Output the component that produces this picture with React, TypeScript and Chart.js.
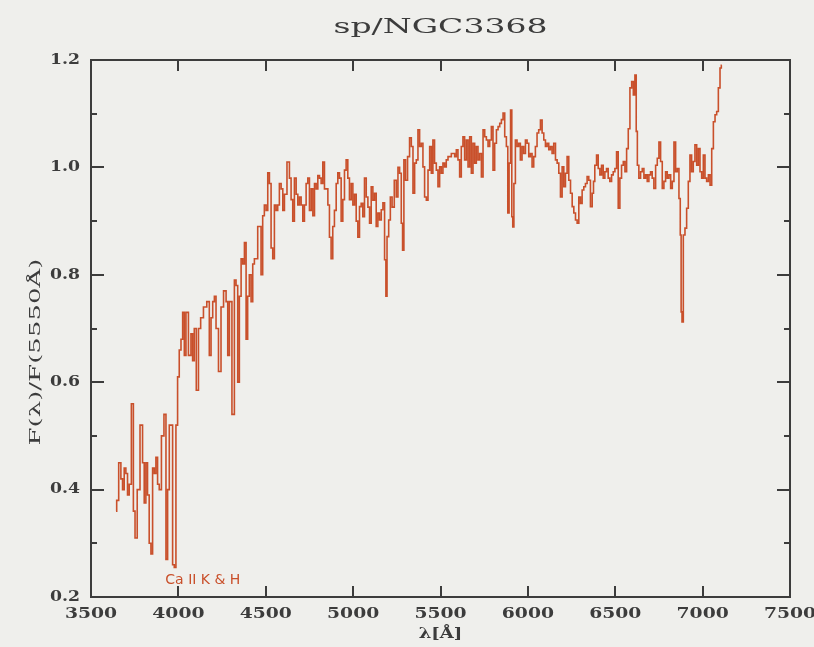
import React, { useEffect, useRef, useState } from "react";
import { Chart, registerables } from "chart.js";

Chart.register(...registerables);

const TITLE = "sp/NGC3368";
const X_TITLE = "λ[Å]";
const Y_TITLE = "F(λ)/F(5550Å)";
const ANNOTATION = "Ca II K & H";
const ANNOTATION_AT = [4140, 0.225];

const X_TICKS = [3500, 4000, 4500, 5000, 5500, 6000, 6500, 7000, 7500];
const Y_TICKS = [0.2, 0.4, 0.6, 0.8, 1.0, 1.2];
const Y_MINOR = [0.3, 0.5, 0.7, 0.9, 1.1];

const WAVELENGTH = [
  3643, 3651, 3666, 3676, 3685, 3695, 3704, 3714, 3723, 3739, 3746, 3758, 3771, 3790, 3800, 3809,
  3819, 3828, 3838, 3848, 3857, 3867, 3876, 3886, 3895, 3911, 3924, 3934, 3943, 3953, 3962, 3972,
  3981, 3991, 4000, 4010, 4020, 4029, 4039, 4048, 4067, 4077, 4086, 4096, 4109, 4121, 4134, 4153,
  4172, 4182, 4192, 4201, 4211, 4220, 4239, 4249, 4268, 4278, 4287, 4297, 4316, 4325, 4335, 4344,
  4354, 4364, 4373, 4383, 4392, 4401, 4411, 4421, 4430, 4440, 4449, 4459, 4468, 4478, 4487, 4497,
  4507, 4516, 4526, 4535, 4545, 4554, 4564, 4573, 4583, 4593, 4602, 4612, 4631, 4640, 4650, 4659,
  4669, 4679, 4688, 4698, 4707, 4717, 4726, 4736, 4745, 4755, 4765, 4774, 4784, 4793, 4803, 4812,
  4822, 4831, 4841, 4851, 4860, 4869, 4879, 4888, 4898, 4908, 4917, 4927, 4936, 4946, 4955, 4965,
  4974, 4984, 4994, 5003, 5013, 5022, 5032, 5041, 5051, 5060, 5070, 5080, 5089, 5099, 5108, 5118,
  5127, 5137, 5146, 5156, 5166, 5175, 5185, 5190, 5198, 5209, 5217, 5229, 5242, 5252, 5261, 5271,
  5280, 5286, 5295, 5305, 5318, 5328, 5338, 5347, 5357, 5366, 5376, 5385, 5395, 5404, 5414, 5424,
  5433, 5443, 5452, 5461, 5471, 5481, 5490, 5500, 5509, 5519, 5528, 5538, 5548, 5557, 5567, 5576,
  5586, 5595, 5605, 5614, 5624, 5633, 5643, 5653, 5662, 5672, 5681, 5691, 5700, 5710, 5719, 5729,
  5739, 5748, 5758, 5767, 5777, 5786, 5796, 5805, 5815, 5825, 5834, 5844, 5853, 5863, 5872, 5882,
  5888, 5897, 5905, 5911, 5916, 5924, 5933, 5943, 5952, 5962, 5971, 5981, 5991, 6000, 6010, 6019,
  6029, 6038, 6048, 6057, 6067, 6077, 6086, 6096, 6105, 6115, 6124, 6134, 6143, 6153, 6163, 6172,
  6182, 6191, 6201, 6210, 6220, 6229, 6239, 6249, 6258, 6268, 6277, 6287, 6296, 6306, 6315, 6325,
  6334, 6344, 6353, 6363, 6373, 6378, 6388, 6398, 6407, 6417, 6426, 6436, 6445, 6455, 6464, 6474,
  6484, 6493, 6503, 6512, 6522, 6531, 6541, 6551, 6560, 6570, 6579, 6589, 6599, 6608, 6617, 6623,
  6630, 6640, 6650, 6659, 6669, 6678, 6688, 6697, 6707, 6716, 6726, 6736, 6745, 6755, 6764, 6774,
  6783, 6793, 6802, 6812, 6822, 6831, 6841, 6850, 6860, 6869, 6875, 6879, 6885, 6894, 6904, 6913,
  6923, 6932, 6942, 6951, 6961, 6971, 6980, 6990, 6999, 7009, 7018, 7028, 7038, 7047, 7057, 7066,
  7076, 7085, 7095, 7104, 7110,
];

const FLUX = [
  0.36, 0.38, 0.45, 0.42, 0.40, 0.44, 0.43, 0.39, 0.41, 0.56, 0.36, 0.31, 0.40, 0.52, 0.45, 0.375,
  0.45, 0.39, 0.30, 0.28, 0.44, 0.43, 0.46, 0.41, 0.40, 0.50, 0.54, 0.27, 0.40, 0.52, 0.52, 0.26,
  0.255, 0.52, 0.61, 0.66, 0.68, 0.73, 0.65, 0.73, 0.65, 0.69, 0.64, 0.70, 0.585, 0.70, 0.72, 0.74,
  0.75, 0.65, 0.72, 0.75, 0.76, 0.70, 0.62, 0.74, 0.77, 0.75, 0.65, 0.75, 0.54, 0.79, 0.78, 0.60,
  0.76, 0.83, 0.82, 0.86, 0.68, 0.76, 0.80, 0.75, 0.82, 0.83, 0.83, 0.89, 0.89, 0.80, 0.91, 0.93,
  0.92, 0.99, 0.97, 0.85, 0.83, 0.93, 0.92, 0.93, 0.97, 0.96, 0.92, 0.95, 1.01, 0.98, 0.94, 0.90,
  0.98, 0.95, 0.93, 0.945, 0.93, 0.90, 0.93, 0.97, 0.98, 0.92, 0.96, 0.91, 0.97, 0.96, 0.985, 0.98,
  0.97, 1.01, 0.96, 0.96, 0.93, 0.87, 0.83, 0.89, 0.92, 0.97, 0.99, 0.98, 0.90, 0.94, 0.995, 1.014,
  0.98, 0.94, 0.97, 0.93, 0.95, 0.90, 0.87, 0.927, 0.933, 0.908, 0.98, 0.945, 0.926, 0.896, 0.964, 0.939,
  0.952, 0.89, 0.915, 0.902, 0.921, 0.934, 0.828, 0.76, 0.871, 0.902, 0.945, 0.926, 0.976, 0.945, 1.0, 0.989,
  0.896, 0.846, 1.014, 0.976, 1.02, 1.055, 1.039, 0.952, 1.008, 1.014, 1.07, 1.039, 1.045, 1.001, 0.945, 0.939,
  0.995, 1.039, 0.989, 1.051, 1.008, 0.995, 0.964, 1.001, 0.989, 1.008, 1.001, 1.014, 1.02, 1.02, 1.026, 1.026,
  1.02, 1.033, 1.014, 0.982, 1.039, 1.057, 1.014, 1.051, 1.001, 1.057, 0.989, 1.045, 1.008, 1.039, 1.014, 1.026,
  0.982, 1.07, 1.057, 1.051, 1.039, 1.051, 1.076, 0.995, 1.045, 1.07, 1.076, 1.082, 1.089, 1.101, 1.057, 1.039,
  0.915, 1.008, 1.107, 0.908, 0.889, 0.97, 1.051, 1.039, 1.045, 1.014, 1.039, 1.026, 1.051, 1.045, 1.02, 1.026,
  1.001, 1.02, 1.039, 1.064, 1.07, 1.088, 1.064, 1.051, 1.039, 1.045, 1.033, 1.039, 1.026, 1.045, 1.014, 1.008,
  0.989, 0.945, 1.001, 0.964, 0.989, 1.02, 0.976, 0.952, 0.927, 0.915, 0.902, 0.896, 0.945, 0.933, 0.958, 0.964,
  0.97, 0.983, 0.976, 0.927, 0.952, 0.974, 1.004, 1.023, 0.998, 0.986, 1.004, 0.98, 0.992, 0.998, 0.98, 0.974,
  0.986, 0.992, 0.998, 1.029, 0.924, 0.98, 1.004, 1.011, 0.992, 1.035, 1.072, 1.148, 1.16, 1.135, 1.172, 1.067,
  1.004, 0.98, 0.992, 0.998, 0.98, 0.986, 0.974, 0.986, 0.992, 0.98, 0.961, 1.004, 1.017, 1.047, 1.011, 0.961,
  0.974, 0.992, 0.98, 0.986, 0.961, 0.974, 1.047, 0.992, 0.998, 0.942, 0.874, 0.731, 0.712, 0.874, 0.887, 0.924,
  0.974, 1.023, 0.992, 1.011, 1.042, 1.004, 1.035, 0.992, 0.98, 1.023, 0.98, 0.974, 0.986, 0.967, 1.035, 1.085,
  1.098, 1.104, 1.148, 1.185, 1.19,
];

const BG = "#efefec";
const INK = "#3c3c3c";
const LINE = "#c9502b";

type Decor = {
  L: number;
  R: number;
  T: number;
  B: number;
  xt: number[];
  yt: number[];
  ym: number[];
};

function wideText(
  ctx: CanvasRenderingContext2D,
  text: string,
  x: number,
  y: number,
  sx: number,
  align: CanvasTextAlign
) {
  ctx.save();
  ctx.translate(x, y);
  ctx.scale(sx, 1);
  ctx.textAlign = align;
  ctx.fillText(text, 0, 0);
  ctx.restore();
}

function drawTexts(ctx: CanvasRenderingContext2D, chart: any) {
  const a = chart.chartArea;
  const xs = chart.scales.x;
  const ys = chart.scales.y;
  ctx.save();
  ctx.fillStyle = INK;
  ctx.textBaseline = "middle";
  ctx.font = "bold 15px 'DejaVu Serif'";
  for (const v of X_TICKS) {
    wideText(ctx, String(v), xs.getPixelForValue(v), a.bottom + 17, 1.25, "center");
  }
  for (const v of Y_TICKS) {
    wideText(ctx, v.toFixed(1), a.left - 11, ys.getPixelForValue(v), 1.15, "right");
  }

  ctx.font = "21px 'DejaVu Serif'";
  const tw = ctx.measureText(TITLE).width;
  wideText(ctx, TITLE, (a.left + a.right) / 2, 28, 214 / tw, "center");

  ctx.font = "bold 15px 'DejaVu Serif'";
  wideText(ctx, X_TITLE, (a.left + a.right) / 2, a.bottom + 37, 1.2, "center");

  ctx.save();
  ctx.translate(36, 352);
  ctx.rotate(-Math.PI / 2);
  ctx.font = "15px 'DejaVu Serif'";
  const yw = ctx.measureText(Y_TITLE).width;
  wideText(ctx, Y_TITLE, 0, 0, 187 / yw, "center");
  ctx.restore();

  ctx.fillStyle = LINE;
  ctx.font = "14px 'DejaVu Sans'";
  ctx.textBaseline = "alphabetic";
  wideText(
    ctx,
    ANNOTATION,
    xs.getPixelForValue(ANNOTATION_AT[0]),
    ys.getPixelForValue(ANNOTATION_AT[1]),
    1.0,
    "center"
  );
  ctx.restore();
}

const abs = (left: number, top: number, width: number, height: number): React.CSSProperties => ({
  position: "absolute",
  left,
  top,
  width,
  height,
  background: INK,
  pointerEvents: "none",
});

export default function App() {
  const canvasRef = useRef<HTMLCanvasElement | null>(null);
  const [decor, setDecor] = useState<Decor | null>(null);

  useEffect(() => {
    document.body.style.margin = "0";
    document.body.style.background = BG;
    const canvas = canvasRef.current;
    if (!canvas) return;

    const chartPlugin = {
      id: "spectrumDecor",
      beforeDraw(chart: any) {
        const ctx = chart.ctx as CanvasRenderingContext2D;
        ctx.save();
        ctx.fillStyle = BG;
        ctx.fillRect(0, 0, chart.width, chart.height);
        ctx.restore();
      },
      afterDraw(chart: any) {
        drawTexts(chart.ctx as CanvasRenderingContext2D, chart);
      },
    };

    const chart = new Chart(canvas, {
      type: "line",
      data: {
        datasets: [
          {
            data: WAVELENGTH.map((w, i) => ({ x: w, y: FLUX[i] })),
            borderColor: LINE,
            borderWidth: 1.6,
            pointRadius: 0,
            stepped: "middle",
            fill: false,
          },
        ],
      },
      options: {
        animation: false,
        responsive: false,
        layout: { padding: { left: 91, right: 24, top: 60, bottom: 50 } },
        plugins: { legend: { display: false }, tooltip: { enabled: false }, title: { display: false } },
        scales: {
          x: { type: "linear", min: 3500, max: 7500, display: false },
          y: { type: "linear", min: 0.2, max: 1.2, display: false },
        },
      },
      plugins: [chartPlugin],
    });

    const a = chart.chartArea;
    const xs: any = chart.scales.x;
    const ys: any = chart.scales.y;
    setDecor({
      L: Math.round(a.left),
      R: Math.round(a.right),
      T: Math.round(a.top),
      B: Math.round(a.bottom),
      xt: X_TICKS.map((v) => Math.round(xs.getPixelForValue(v))),
      yt: Y_TICKS.map((v) => Math.round(ys.getPixelForValue(v))),
      ym: Y_MINOR.map((v) => Math.round(ys.getPixelForValue(v))),
    });

    return () => chart.destroy();
  }, []);

  return (
    <div style={{ position: "relative", width: 814, height: 647, background: BG }}>
      <canvas ref={canvasRef} width={814} height={647} style={{ display: "block" }} />
      {decor && (
        <>
          <div style={abs(decor.L - 1, decor.T - 1, decor.R - decor.L + 2, 2)} />
          <div style={abs(decor.L - 1, decor.B - 1, decor.R - decor.L + 2, 2)} />
          <div style={abs(decor.L - 1, decor.T - 1, 2, decor.B - decor.T + 2)} />
          <div style={abs(decor.R - 1, decor.T - 1, 2, decor.B - decor.T + 2)} />
          {decor.xt.map((px, i) => (
            <React.Fragment key={"x" + i}>
              <div style={abs(px - 1, decor.B - 11, 2, 11)} />
              <div style={abs(px - 1, decor.T, 2, 11)} />
            </React.Fragment>
          ))}
          {decor.yt.map((py, i) => (
            <React.Fragment key={"y" + i}>
              <div style={abs(decor.L, py - 1, 13, 2)} />
              <div style={abs(decor.R - 13, py - 1, 13, 2)} />
            </React.Fragment>
          ))}
          {decor.ym.map((py, i) => (
            <React.Fragment key={"m" + i}>
              <div style={abs(decor.L, py - 1, 6, 2)} />
              <div style={abs(decor.R - 6, py - 1, 6, 2)} />
            </React.Fragment>
          ))}
        </>
      )}
    </div>
  );
}
